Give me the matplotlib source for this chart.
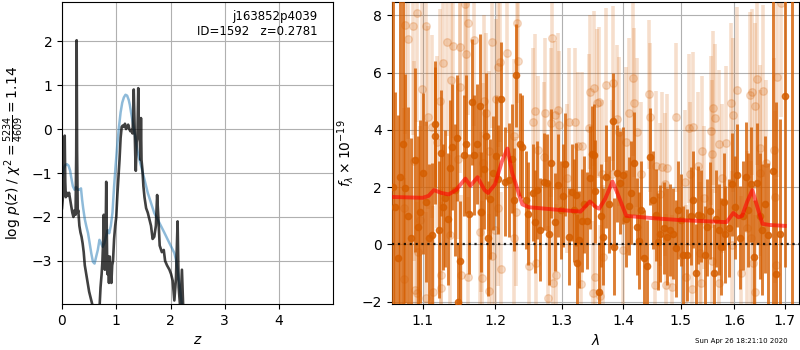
import matplotlib
matplotlib.use("Agg")
import matplotlib.pyplot as plt
from matplotlib.ticker import NullLocator, NullFormatter, FixedLocator, FixedFormatter

# ---------------- left panel: log p(z) ----------------
z_dark = [0.0, 0.02, 0.04, 0.05, 0.06, 0.07, 0.09, 0.11, 0.13, 0.15, 0.17, 0.19, 0.21, 0.23,
          0.25, 0.262, 0.27, 0.278, 0.29, 0.30, 0.32, 0.34, 0.36, 0.38, 0.40, 0.42, 0.44, 0.46,
          0.48, 0.50, 0.52, 0.54, 0.56, 0.58, 0.62, 0.66, 0.69, 0.71, 0.73, 0.745, 0.76, 0.77,
          0.78, 0.79, 0.80, 0.815, 0.825, 0.835, 0.85, 0.865, 0.88, 0.895, 0.91, 0.925, 0.94,
          0.96, 0.98, 1.0, 1.02, 1.04, 1.06, 1.08, 1.10, 1.12, 1.14, 1.16, 1.18, 1.20, 1.22,
          1.24, 1.26, 1.28, 1.30, 1.31, 1.322, 1.335, 1.35, 1.36, 1.375, 1.39, 1.405, 1.415,
          1.43, 1.445, 1.455, 1.465, 1.48, 1.50, 1.52, 1.55, 1.58, 1.61, 1.64, 1.67, 1.70, 1.73,
          1.753, 1.775, 1.80, 1.84, 1.875, 1.90, 1.935, 1.98, 2.01, 2.04, 2.07, 2.10, 2.13,
          2.15, 2.18, 2.21, 2.24, 2.30]
logp_dark = [-1.8, -1.5, -1.1, -0.15, -1.2, -1.55, -1.45, -1.52, -1.45, -1.6, -1.75, -1.9, -2.0, -1.85,
             -1.95, -0.6, 2.02, -0.5, -1.9, -1.85, -2.2, -2.35, -2.45, -2.6, -2.8, -3.1, -3.25, -3.4,
             -3.55, -3.7, -3.8, -3.9, -4.0, -4.3, -4.5, -4.4, -4.1, -3.6, -3.3, -3.0, -2.5, -1.95,
             -2.7, -3.2, -2.9, -1.2, -2.3, -3.3, -2.9, -3.5, -2.9, -3.3, -3.5, -3.1, -3.0,
             -2.5, -2.2, -2.0, -1.5, -1.1, -0.7, -0.2, 0.05, 0.08, 0.05, 0.12, 0.0, 0.05, 0.1,
             0.0, -0.05, -0.02, -0.1, 0.3, 0.9, 0.2, -0.6, -0.95, -0.3, -0.2, 0.93, 0.1,
             -0.05, -0.7, 0.25, -0.7, -0.9, -1.3, -1.55, -1.8, -1.9, -2.05, -2.2, -2.5, -2.45, -2.2,
             -1.5, -2.0, -2.65, -2.8, -2.75, -3.0, -3.1, -3.2, -3.3, -3.45, -3.9, -3.4, -2.1,
             -3.6, -4.1, -3.2, -4.3, -4.8]

z_blue = [0.0, 0.03, 0.06, 0.09, 0.12, 0.15, 0.17, 0.20, 0.23, 0.26, 0.29, 0.32, 0.35, 0.37,
          0.39, 0.42, 0.45, 0.48, 0.51, 0.54, 0.57, 0.60, 0.63, 0.66, 0.69, 0.72, 0.75, 0.78,
          0.81, 0.84, 0.87, 0.90, 0.93, 0.96, 0.99, 1.02, 1.05, 1.08, 1.11, 1.14, 1.17, 1.20,
          1.23, 1.25, 1.275, 1.306, 1.337, 1.367, 1.398, 1.428, 1.459, 1.49, 1.52, 1.55, 1.58,
          1.64, 1.70, 1.765, 1.826, 1.887, 1.95, 2.01, 2.07, 2.10, 2.13, 2.16, 2.19, 2.22, 2.25]
logp_blue = [-1.1, -0.9, -0.82, -0.8, -0.83, -0.95, -1.1, -1.3, -1.38, -1.32, -1.38, -1.38, -1.35, -1.6,
             -1.8, -2.05, -2.22, -2.37, -2.6, -2.83, -3.02, -3.06, -2.9, -2.75, -2.52, -2.6, -2.68, -2.6,
             -2.45, -2.3, -2.37, -2.2, -1.9, -1.3, -0.8, -0.35, 0.05, 0.38, 0.6, 0.72, 0.78, 0.76,
             0.66, 0.55, 0.36, 0.14, -0.09, -0.32, -0.55, -0.7, -0.85, -1.0, -1.15, -1.3, -1.45,
             -1.68, -1.91, -2.06, -2.21, -2.36, -2.52, -2.67, -2.82, -2.97, -3.2, -3.5, -3.8, -4.1, -4.4]

z_ticks = [0, 1, 2, 3, 4]

# ---------------- right panel: spectrum ----------------
w_dark = [1.062, 1.064, 1.068, 1.071, 1.074, 1.077, 1.081, 1.085, 1.090, 1.094, 1.097, 1.101,
          1.105, 1.109, 1.112, 1.116, 1.117, 1.122, 1.125, 1.127, 1.130, 1.134, 1.137, 1.140,
          1.143, 1.146, 1.148, 1.151, 1.156, 1.159, 1.163, 1.167, 1.170, 1.174, 1.179, 1.180,
          1.184, 1.187, 1.190, 1.193, 1.197, 1.201, 1.205, 1.209, 1.215, 1.220, 1.224, 1.227,
          1.231, 1.236, 1.239, 1.245, 1.249, 1.256, 1.259, 1.262, 1.266, 1.272, 1.277, 1.281,
          1.284, 1.289, 1.294, 1.299, 1.302, 1.306, 1.312, 1.316, 1.320, 1.323, 1.325, 1.328,
          1.332, 1.336, 1.340, 1.345, 1.348, 1.351, 1.354, 1.359, 1.363, 1.367, 1.372, 1.377,
          1.382, 1.385, 1.390, 1.395, 1.400, 1.404, 1.409, 1.413, 1.418, 1.423, 1.427, 1.431,
          1.435, 1.440, 1.446, 1.451, 1.457, 1.460, 1.464, 1.471, 1.475, 1.480, 1.487, 1.492,
          1.496, 1.500, 1.505, 1.512, 1.518, 1.522, 1.528, 1.532, 1.538, 1.545, 1.549, 1.554,
          1.562, 1.566, 1.570, 1.575, 1.581, 1.583, 1.590, 1.596, 1.601, 1.606, 1.611, 1.617,
          1.622, 1.627, 1.632, 1.638, 1.645, 1.650, 1.655, 1.660, 1.666, 1.676, 1.683, 1.691,
          1.700, 1.714]
f_dark = [2.0, 1.32, -0.49, 2.37, 3.5, 1.96, 1.0, 0.21, 2.95, 0.6, 1.14, 2.48,
          1.5, 0.21, 0.33, 3.8, 4.21, 0.52, 3.18, 1.32, 1.61, 0.9, 2.66, 3.41,
          1.9, 3.73, -2.0, -0.58, 3.11, 3.51, 1.06, 4.96, 3.12, 3.51, 4.84, 1.13,
          2.63, 3.79, 0.21, 1.59, 2.5, 3.1, 2.27, 5.08, 2.19, 2.25, 3.0, 1.57,
          5.91, 3.5, 3.41, 1.55, 1.08, 1.81, 0.79, 1.9, 0.52, 2.19, 2.16, 0.38,
          2.83, 0.79, 2.06, 1.2, 1.7, 2.8, 0.27, 1.82, 1.2, 1.74, -0.63, 0.17,
          0.83, 1.4, 0.83, 2.33, 3.15, 3.12, 1.86, -1.65, 1.0, 0.27, 2.37, 1.4,
          4.3, -0.08, 2.48, 2.16, 2.42, 0.9, 1.34, 1.8, 2.83, 0.62, 0.13, 1.2,
          -0.49, -0.76, 3.07, 1.55, 1.03, 0.1, 0.38, 0.58, 0.27, 0.5, 0.38, -0.14,
          1.2, 0.85, -0.37, -0.37, 0.99, 1.57, -0.99, 1.03, 0.99, -0.37, 0.6, 1.18,
          -0.99, 0.9, 0.52, -0.08, 1.49, 0.35, 0.58, 2.11, 1.3, 2.42, 0.24, 1.0,
          2.37, 1.2, 2.1, -0.43, 2.13, 1.0, 0.52, 1.4, 0.33, 2.55, -1.02, 0.38,
          5.2, 12.0]
e_dark = [7.0, 4.0, 5.0, 6.5, 6.0, 4.0, 3.8, 3.5, 3.2, 3.2, 3.2, 2.8,
          2.8, 2.6, 2.5, 2.4, 2.2, 2.4, 2.2, 2.2, 2.4, 2.3, 2.4, 2.2,
          2.3, 2.2, 2.0, 2.1, 2.1, 2.4, 2.1, 2.2, 2.1, 2.1, 2.5, 2.1,
          2.1, 2.2, 2.0, 2.1, 2.0, 2.1, 1.9, 2.0, 1.9, 2.0, 1.9, 1.8,
          1.8, 1.8, 1.8, 1.7, 1.8, 1.7, 1.8, 1.7, 1.8, 1.7, 1.7, 1.8,
          1.9, 1.7, 1.8, 1.7, 1.8, 1.8, 1.7, 1.7, 1.8, 1.8, 1.7, 1.7,
          1.8, 1.7, 1.7, 1.8, 1.7, 1.8, 1.8, 1.7, 1.8, 1.7, 1.8, 1.7,
          1.7, 1.7, 1.7, 1.8, 1.7, 1.7, 1.7, 1.8, 1.8, 1.7, 1.7, 1.7,
          1.7, 1.6, 1.7, 1.7, 1.6, 1.7, 1.7, 1.6, 1.7, 1.6, 1.6, 1.7,
          1.7, 1.6, 1.7, 1.6, 1.7, 1.7, 1.7, 1.7, 1.6, 1.7, 1.7, 1.7,
          1.7, 1.7, 1.6, 1.7, 1.7, 1.7, 1.7, 1.8, 1.8, 1.8, 1.8, 1.9,
          1.9, 2.0, 2.0, 2.0, 2.1, 2.2, 2.3, 2.4, 2.5, 6.0, 6.0, 4.0,
          6.0, 20.0]

w_light = [1.075, 1.076, 1.077, 1.081, 1.087, 1.088, 1.090, 1.092, 1.093, 1.094, 1.097, 1.099,
           1.104, 1.105, 1.107, 1.113, 1.114, 1.119, 1.123, 1.124, 1.125, 1.127, 1.132, 1.137,
           1.138, 1.141, 1.148, 1.150, 1.151, 1.152, 1.158, 1.159, 1.161, 1.162, 1.170, 1.179,
           1.180, 1.182, 1.183, 1.184, 1.187, 1.191, 1.192, 1.195, 1.196, 1.200, 1.201, 1.204,
           1.205, 1.207, 1.208, 1.217, 1.227, 1.228, 1.230, 1.232, 1.234, 1.250, 1.256, 1.259,
           1.261, 1.264, 1.272, 1.274, 1.279, 1.284, 1.285, 1.286, 1.289, 1.292, 1.295, 1.296,
           1.308, 1.311, 1.321, 1.326, 1.330, 1.332, 1.343, 1.345, 1.350, 1.351, 1.354, 1.356,
           1.360, 1.361, 1.365, 1.367, 1.371, 1.381, 1.382, 1.390, 1.393, 1.400, 1.405, 1.409,
           1.417, 1.418, 1.424, 1.431, 1.444, 1.446, 1.454, 1.457, 1.463, 1.466, 1.472, 1.474,
           1.476, 1.485, 1.491, 1.507, 1.510, 1.516, 1.517, 1.521, 1.522, 1.532, 1.536, 1.537,
           1.539, 1.543, 1.555, 1.557, 1.558, 1.560, 1.563, 1.570, 1.571, 1.577, 1.584, 1.593,
           1.596, 1.597, 1.605, 1.612, 1.624, 1.631, 1.632, 1.634, 1.637, 1.640, 1.641, 1.644,
           1.650, 1.651, 1.656, 1.662, 1.679, 1.681, 1.683, 1.685, 1.692]
f_light = [1.26, -1.19, 7.67, 7.17, 7.63, 2.91, -1.6, 8.08, -1.71, -0.26, 0.85, 5.42,
           7.63, -1.86, 4.44, 4.11, -1.67, 3.59, 5.02, -1.53, -1.07, 6.35, 7.09, 0.33,
           5.75, 6.93, 3.0, 6.89, 5.51, -1.07, 8.4, 6.66, -1.15, 7.73, 7.14, 0.44,
           1.14, -1.17, 2.83, 5.02, 4.58, 3.27, -1.62, -0.41, 7.06, 0.5, 5.07, 6.21,
           1.26, 6.38, -0.87, 6.68, 0.21, 3.79, 1.14, 7.73, 6.41, -0.75, 4.27, 4.66,
           -0.66, 3.3, 3.07, 4.6, -1.86, 4.25, 7.2, -1.34, 4.52, -1.07, 4.7, 4.17,
           2.31, 4.27, 4.27, 3.44, -1.39, 3.44, 4.06, 5.33, -1.68, 5.45, -1.13, 4.93,
           4.99, -1.81, 2.46, -0.43, 5.57, 2.46, 5.63, 4.38, 3.94, -0.2, 3.59, 4.6,
           5.8, 4.95, 3.92, 2.46, 5.24, 4.44, -1.43, 2.75, 1.76, 2.72, 2.1, -1.43,
           2.66, -1.48, 4.44, 2.19, -1.13, 4.06, 2.46, -1.57, 4.11, 2.74, -0.31, -1.34,
           3.28, 1.63, 3.97, 3.16, -0.57, 4.76, 4.41, 3.5, -1.36, 2.31, 3.55, 4.95,
           -0.02, 4.52, 5.4, -0.99, 0.56, 5.22, 0.21, 5.34, -0.66, 4.84, -1.67, 5.77,
           3.36, 2.48, 5.37, 2.83, 3.3, 1.67, -0.72, 5.86, 8.45]
e_light = [3.5, 3.5, 3.8, 3.5, 3.8, 3.5, 3.2, 3.8, 3.2, 3.3, 3.3, 3.4,
           3.5, 3.0, 3.2, 3.2, 3.0, 3.0, 3.2, 3.0, 3.0, 3.2, 3.3, 2.8,
           3.0, 3.2, 2.8, 3.2, 3.0, 2.8, 3.3, 3.0, 2.8, 3.2, 3.0, 2.8,
           2.8, 2.7, 2.8, 3.0, 2.8, 2.8, 2.7, 2.7, 3.0, 2.7, 2.8, 2.8,
           2.7, 2.8, 2.7, 2.8, 2.6, 2.7, 2.6, 2.8, 2.7, 2.6, 2.6, 2.7,
           2.6, 2.6, 2.6, 2.6, 2.5, 2.6, 2.8, 2.5, 2.6, 2.5, 2.7, 2.6,
           2.6, 2.6, 2.6, 2.6, 2.5, 2.6, 2.6, 2.7, 2.5, 2.7, 2.5, 2.6,
           2.6, 2.5, 2.6, 2.5, 2.7, 2.6, 2.7, 2.6, 2.6, 2.5, 2.6, 2.6,
           2.7, 2.6, 2.6, 2.5, 2.6, 2.6, 2.5, 2.6, 2.5, 2.6, 2.5, 2.5,
           2.6, 2.5, 2.6, 2.5, 2.5, 2.6, 2.5, 2.5, 2.6, 2.6, 2.5, 2.5,
           2.6, 2.5, 2.6, 2.6, 2.5, 2.7, 2.6, 2.6, 2.6, 2.6, 2.7, 2.8,
           2.6, 2.7, 2.9, 2.7, 2.7, 2.9, 2.7, 2.9, 2.7, 2.9, 2.7, 3.0,
           2.9, 2.9, 3.0, 2.9, 3.2, 3.0, 3.0, 3.5, 4.0]

w_model = [1.06, 1.10, 1.108, 1.115, 1.125, 1.135, 1.145, 1.158, 1.165, 1.175, 1.185, 1.19,
           1.20, 1.21, 1.218, 1.225, 1.24, 1.25, 1.30, 1.33, 1.345, 1.355, 1.36, 1.37, 1.382,
           1.39, 1.405, 1.45, 1.50, 1.585, 1.598, 1.608, 1.615, 1.625, 1.635, 1.645, 1.655,
           1.67, 1.70]
f_model = [1.66, 1.63, 1.7, 1.9, 1.8, 1.75, 1.9, 2.3, 2.05, 2.35, 1.9, 1.8,
           2.1, 2.9, 3.35, 2.5, 1.4, 1.3, 1.2, 1.15, 1.5, 1.3, 1.25, 1.6, 2.2,
           1.8, 1.0, 0.92, 0.85, 0.78, 1.1, 0.95, 1.0, 1.5, 1.9, 1.3, 0.72,
           0.68, 0.65]

wave_ticks = [1.1, 1.2, 1.3, 1.4, 1.5, 1.6, 1.7]
flux_ticks = [-2, 0, 2, 4, 6, 8]

G141 = (0.835, 0.369, 0.0)

fig = plt.figure(figsize=(8, 3.5), dpi=100)
ax1 = fig.add_axes([0.0775, 0.1314, 0.3385, 0.8629])
ax2 = fig.add_axes([0.4896, 0.1314, 0.5091, 0.8629])

ax1.plot(z_blue, logp_blue, color='tab:blue', alpha=0.5, lw=1.8)
ax1.plot(z_dark, logp_dark, color='k', alpha=0.75, lw=1.9)
ax1.set_xlim(0, 4.99)
ax1.set_ylim(-3.98, 2.89)
ax1.set_xticks(z_ticks)
ax1.grid(True)
ax1.set_xlabel('$z$')
ax1.set_ylabel(r'log $p(z)$ / $\chi^2=\frac{5234}{4609}=1.14$')
ax1.text(0.945, 0.975, 'j163852p4039\nID=1592   z=0.2781', transform=ax1.transAxes,
         ha='right', va='top', fontsize=8.5)

ax2.errorbar(w_light, f_light, e_light, color=G141, alpha=0.2, marker='o', ms=5.5,
             linestyle='none', elinewidth=2.6, capsize=0, zorder=2)
ax2.errorbar(w_dark, f_dark, e_dark, color=G141, alpha=0.8, marker='o', ms=4.5,
             linestyle='none', elinewidth=2.1, capsize=0, zorder=3)
ax2.plot(w_model, f_model, color='r', alpha=0.6, lw=2.8, zorder=4)
ax2.axhline(0, color='k', ls=':', lw=1.6, alpha=0.85, zorder=5)

ax2.set_xscale('log')
ax2.set_xlim(1.0598, 1.7292)
ax2.set_ylim(-2.08, 8.47)
ax2.xaxis.set_major_locator(FixedLocator(wave_ticks))
ax2.xaxis.set_major_formatter(FixedFormatter([str(t) for t in wave_ticks]))
ax2.xaxis.set_minor_locator(NullLocator())
ax2.xaxis.set_minor_formatter(NullFormatter())
ax2.set_yticks(flux_ticks)
ax2.grid(True)
ax2.set_xlabel(r'$\lambda$')
ax2.set_ylabel(r'$f_\lambda\times10^{-19}$')

fig.text(0.985, 0.025, 'Sun Apr 26 18:21:10 2020', ha='right', va='center', fontsize=5)

fig.savefig('out.png', dpi=100)
